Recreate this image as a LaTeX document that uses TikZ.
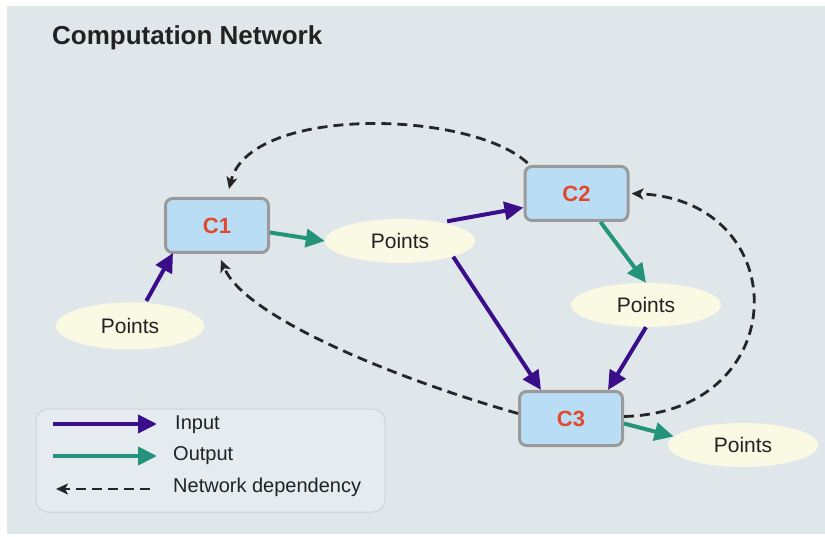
\documentclass[tikz,border=0pt]{standalone}
\usepackage{fontspec}
\setmainfont{Liberation Sans}
\usetikzlibrary{shapes.geometric,arrows.meta}
\definecolor{bgc}{HTML}{E0E7EB}
\definecolor{legc}{HTML}{E5EBEE}
\definecolor{legb}{HTML}{CDD5DA}
\definecolor{boxfill}{HTML}{BADDF6}
\definecolor{boxdraw}{HTML}{9A9A9A}
\definecolor{labred}{HTML}{E2492B}
\definecolor{ptfill}{HTML}{FAF9E3}
\definecolor{inc}{HTML}{3A0D8A}
\definecolor{outc}{HTML}{23937A}
\definecolor{depc}{HTML}{262626}
\definecolor{txt}{HTML}{222222}
\tikzset{
  compbox/.style={draw=boxdraw, fill=boxfill, line width=3pt, rounded corners=7pt,
    minimum width=103pt, minimum height=54pt, inner sep=0pt,
    text=labred, font=\fontsize{22}{26}\selectfont\bfseries},
  ptsnode/.style={ellipse, fill=ptfill, draw=none, minimum width=150pt, minimum height=44pt,
    inner sep=0pt, text=txt, font=\fontsize{21}{25}\selectfont},
  inarrow/.style={draw=inc, line width=4pt, -{Triangle[length=19pt,width=18pt]}},
  outarrow/.style={draw=outc, line width=4pt, -{Triangle[length=19pt,width=18pt]}},
  deparrow/.style={draw=depc, line width=2.8pt, dash pattern=on 10pt off 6pt,
    -{Stealth[length=12pt,width=11pt,inset=3pt]}},
  legtext/.style={anchor=west, text=txt, font=\fontsize{20}{24}\selectfont, inner sep=0pt}
}
\begin{document}
\begin{tikzpicture}[x=1pt,y=-1pt]
\useasboundingbox (0,0) rectangle (825,537);
\fill[white] (0,0) rectangle (825,537);
\fill[bgc] (7,6) rectangle (825,534);

\node[anchor=base west, inner sep=0pt, text=txt, font=\fontsize{26}{31}\selectfont\bfseries] (title) at (52,45) {Computation Network};

% legend
\draw[fill=legc, draw=legb, line width=1pt, rounded corners=12pt] (36,409) rectangle (385,512);
\coordinate (li1) at (53,424);
\coordinate (li2) at (157,424);
\coordinate (lo1) at (53,456);
\coordinate (lo2) at (157,456);
\coordinate (ld1) at (150,489);
\coordinate (ld2) at (56,489);
\draw[inarrow] (li1) -- (li2);
\draw[outarrow] (lo1) -- (lo2);
\draw[deparrow] (ld1) -- (ld2);
\node[legtext] (lin) at (175,425) {Input};
\node[legtext] (lout) at (173,456) {Output};
\node[legtext] (ldep) at (173,487) {Network dependency};

% nodes
\node[compbox] (C1) at (217,225.5) {C1};
\node[compbox] (C2) at (576.5,193.5) {C2};
\node[compbox] (C3) at (571,418.5) {C3};
\node[ptsnode] (P1) at (400,241) {Points};
\node[ptsnode] (P2) at (646,305) {Points};
\node[ptsnode, minimum width=148pt, minimum height=47pt] (P3) at (130,326) {Points};
\node[ptsnode] (P4) at (743,445) {Points};

% dependency arrows
\draw[deparrow] ([shift={(4pt,2pt)}]C2.north west) .. controls (470,110) and (250,105) .. ([shift={(12pt,8pt)}]C1.north);
\draw[deparrow] ([yshift=5pt]C3.west) .. controls (400,380) and (245,318) .. ([shift={(4pt,-6pt)}]C1.south);
\draw[deparrow] ([yshift=2pt]C3.east) .. controls (795,412) and (795,200) .. ([xshift=2pt]C2.east);

% input / output
\draw[inarrow] ([shift={(-1pt,2pt)}]P3.53) -- ([shift={(9pt,1pt)}]C1.south west);
\draw[outarrow] ([yshift=-7pt]C1.east) -- (P1.west);
\draw[inarrow] ([shift={(-6pt,4pt)}]P1.north east) -- ([yshift=-14pt]C2.west);
\draw[inarrow] (P1.south east) -- ([xshift=23pt]C3.north west);
\draw[outarrow] ([xshift=24pt]C2.south) -- (P2.north);
\draw[inarrow] (P2.south) -- ([xshift=90pt]C3.north west);
\draw[outarrow] ([yshift=-5pt]C3.east) -- (P4.173);
\end{tikzpicture}
\end{document}
